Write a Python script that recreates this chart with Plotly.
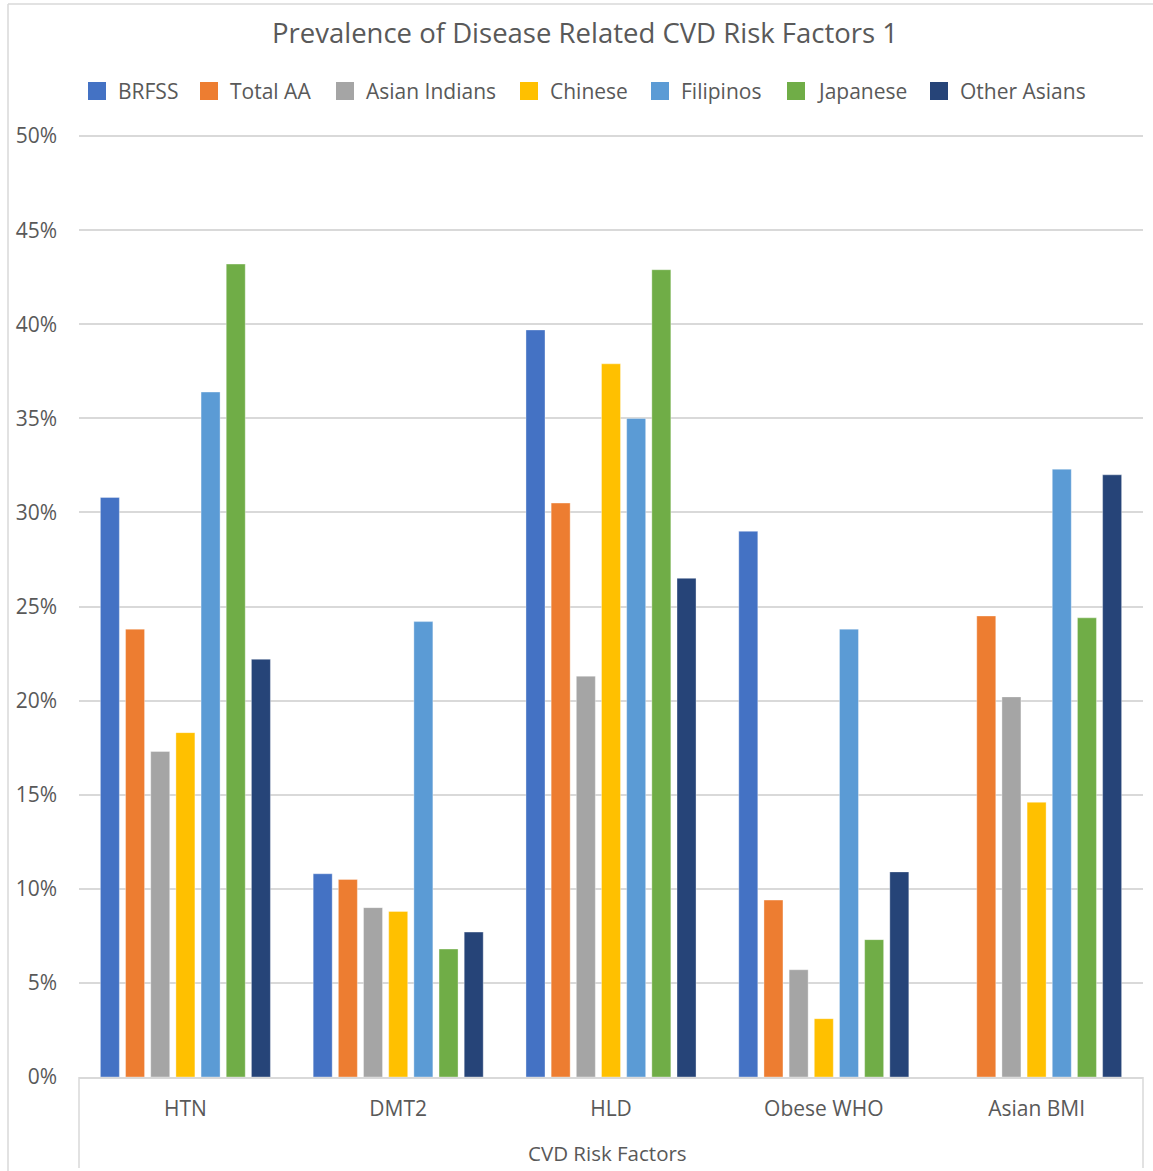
import plotly.graph_objects as go

# Risk factor categories and prevalence (fraction of population) per group
categories = ["HTN", "DMT2", "HLD", "Obese WHO", "Asian BMI"]

brfss = [0.308, 0.108, 0.397, 0.290, None]
total_aa = [0.238, 0.105, 0.305, 0.094, 0.245]
asian_indians = [0.173, 0.090, 0.213, 0.057, 0.202]
chinese = [0.183, 0.088, 0.379, 0.031, 0.146]
filipinos = [0.364, 0.242, 0.350, 0.238, 0.323]
japanese = [0.432, 0.068, 0.429, 0.073, 0.244]
other_asians = [0.222, 0.077, 0.265, 0.109, 0.320]

series_names = ["BRFSS", "Total AA", "Asian Indians", "Chinese",
                "Filipinos", "Japanese", "Other Asians"]
series_values = [brfss, total_aa, asian_indians, chinese,
                 filipinos, japanese, other_asians]
series_colors = ["#4472C4", "#ED7D31", "#A5A5A5", "#FFC000",
                 "#5B9BD5", "#70AD47", "#264478"]

# Canvas and plot-area geometry (pixels)
W, H = 1153, 1171
ML, MR, MT, MB = 79, 10, 135, 94
PW, PH = W - ML - MR, H - MT - MB

TEXT = "#595959"
GRID = "#D9D9D9"
FONT = "Open Sans, DejaVu Sans, sans-serif"


def px_x(px):
    return (px - ML) / PW


def px_y(py):
    return (H - MB - py) / PH


fig = go.Figure()
for name, vals, col in zip(series_names, series_values, series_colors):
    fig.add_trace(go.Bar(
        name=name, x=categories, y=vals,
        marker=dict(color=col, line=dict(color="rgba(255,255,255,0.35)", width=1)),
        showlegend=False,
    ))

shapes = []
annotations = []

# Legend row: coloured squares followed by series names
legend_x = [88, 200, 336, 520, 651, 787, 930]
legend_cy = 91
for lx, name, col in zip(legend_x, series_names, series_colors):
    shapes.append(dict(
        type="rect", xref="paper", yref="paper",
        x0=px_x(lx), x1=px_x(lx + 18),
        y0=px_y(legend_cy + 9), y1=px_y(legend_cy - 9),
        fillcolor=col, line=dict(width=0),
    ))
    annotations.append(dict(
        text=name, xref="paper", yref="paper",
        x=px_x(lx + 28), y=px_y(legend_cy),
        xanchor="left", yanchor="middle", showarrow=False,
        font=dict(family=FONT, size=21, color=TEXT),
    ))

# Box framing the category axis area
for bx in (ML, W - MR):
    shapes.append(dict(
        type="line", xref="paper", yref="paper",
        x0=px_x(bx), x1=px_x(bx), y0=0, y1=px_y(1168),
        line=dict(color=GRID, width=1.5),
    ))

# Outer chart border (left and top edges)
shapes.append(dict(
    type="line", xref="paper", yref="paper",
    x0=px_x(8), x1=px_x(8), y0=px_y(4), y1=px_y(H + 5),
    line=dict(color=GRID, width=1.5),
))
shapes.append(dict(
    type="line", xref="paper", yref="paper",
    x0=px_x(8), x1=px_x(W + 5), y0=px_y(4), y1=px_y(4),
    line=dict(color=GRID, width=1.5),
))

# Category axis title
annotations.append(dict(
    text="CVD Risk Factors", xref="paper", yref="paper",
    x=px_x(607), y=px_y(1153), xanchor="center", yanchor="middle",
    showarrow=False, font=dict(family=FONT, size=20.5, color=TEXT),
))

fig.update_layout(
    width=W, height=H,
    margin=dict(l=ML, r=MR, t=MT, b=MB, pad=0),
    paper_bgcolor="white", plot_bgcolor="white",
    barmode="group", bargap=0.172, bargroupgap=0.245,
    title=dict(
        text="Prevalence of Disease Related CVD Risk Factors 1",
        x=585 / W, xanchor="center",
        y=1 - 33 / H, yanchor="middle",
        font=dict(family=FONT, size=27.5, color=TEXT),
    ),
    font=dict(family=FONT, color=TEXT),
    shapes=shapes,
    annotations=annotations,
)

fig.update_yaxes(
    range=[0, 0.5006], dtick=0.05, tickformat=".0%",
    showgrid=True, gridcolor=GRID, gridwidth=1.5,
    zeroline=False, showline=False,
    ticks="", ticklabelstandoff=21,
    tickfont=dict(family=FONT, size=21, color=TEXT),
)
fig.update_xaxes(
    showline=True, linecolor=GRID, linewidth=1.5,
    ticks="", ticklabelstandoff=12,
    tickfont=dict(family=FONT, size=21, color=TEXT),
)

fig.write_html("out.html")
